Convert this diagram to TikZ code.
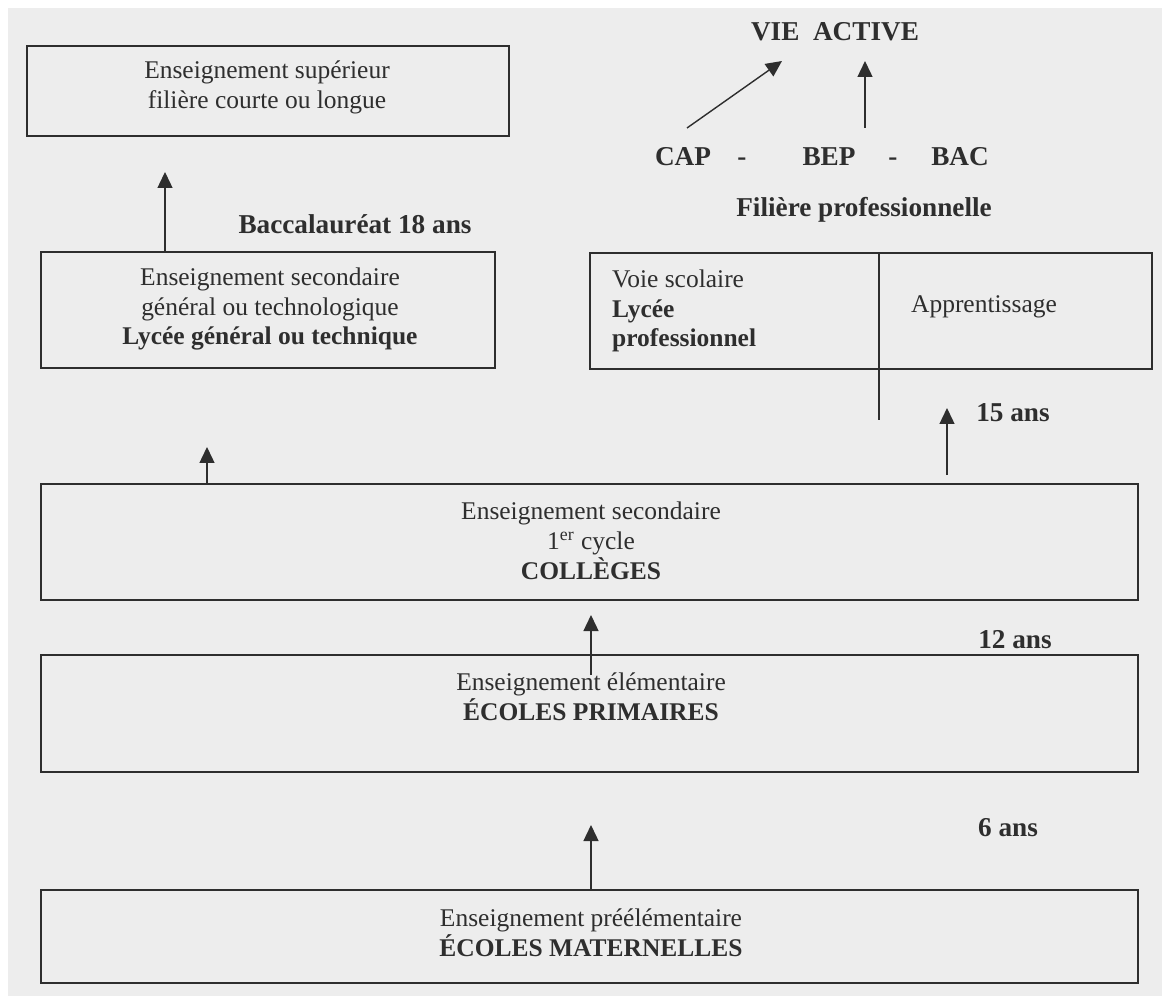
\documentclass[tikz,border=0pt]{standalone}
\usepackage{fontspec}
\setmainfont{Liberation Serif}
\usepackage{xcolor}
\usepackage{tikz}
\usetikzlibrary{arrows.meta}
\definecolor{paper}{HTML}{EDEDED}
\definecolor{ink}{HTML}{2E2E2E}
\tikzset{
  box/.style={draw=ink, line width=1.1pt, rectangle, inner sep=0pt},
  arr/.style={-{Triangle[width=0.3cm, length=0.32cm]}, draw=ink, line width=0.8pt},
  rule/.style={draw=ink, line width=0.8pt},
  txt/.style={text=ink, align=center, font=\fontsize{14.5}{17}\selectfont},
  big/.style={text=ink, font=\fontsize{15.5}{18}\selectfont\bfseries}
}

\begin{document}
\begin{tikzpicture}[x=0.02cm, y=-0.02cm]
  \useasboundingbox (0,0) rectangle (1162,996);
  % paper
  \fill[white] (0,0) rectangle (1162,996);
  \fill[paper] (8,8) rectangle (1172,1006);

  % boxes
  \node[box, minimum width=9.64cm, minimum height=1.8cm] (sup) at (268,91) {};
  \node[box, minimum width=9.08cm, minimum height=2.32cm] (lyc) at (268,310) {};
  \node[box, minimum width=11.24cm, minimum height=2.32cm] (pro) at (871,311) {};
  \node[box, minimum width=21.94cm, minimum height=2.32cm] (col) at (589.5,542) {};
  \node[box, minimum width=21.94cm, minimum height=2.34cm] (pri) at (589.5,713.5) {};
  \node[box, minimum width=21.94cm, minimum height=1.86cm] (mat) at (589.5,936.5) {};

  % texts in the boxes
  \node[txt] (supTxt) at (267,87) {Enseignement supérieur\\filière courte ou longue};
  \node[txt] (lycTxt) at (270,309) {Enseignement secondaire\\général ou technologique\\\textbf{Lycée général ou technique}};
  \node[txt, anchor=west, align=left] (voie) at (606,311) {Voie scolaire\\\textbf{Lycée}\\\textbf{professionnel}};
  \node[txt] (app) at (984,307) {Apprentissage};
  \node[txt] (colTxt) at (591,541) {Enseignement secondaire\\1\textsuperscript{er} cycle\\\textbf{COLLÈGES}};
  \node[txt] (priTxt) at (591,697) {Enseignement élémentaire\\\textbf{ÉCOLES PRIMAIRES}};
  \node[txt] (matTxt) at (591,933) {Enseignement préélémentaire\\\textbf{ÉCOLES MATERNELLES}};

  % labels
  \node[big] (vie) at (835,32) {VIE\ \ ACTIVE};
  \node[big, anchor=base] (cap) at (683,166) {CAP};
  \node[big, anchor=base] (d1) at (742,166) {-};
  \node[big, anchor=base] (bep) at (829,166) {BEP};
  \node[big, anchor=base] (d2) at (893,166) {-};
  \node[big, anchor=base] (bac) at (960,166) {BAC};
  \node[big] (fil) at (864,210) {Filière professionnelle};
  \node[big] (bacc) at (355,224) {Baccalauréat 18 ans};
  \node[big] (a15) at (1013,413) {15 ans};
  \node[big] (a12) at (1015,640) {12 ans};
  \node[big] (a6) at (1008,828) {6 ans};

  % arrows
  \coordinate (capFoot) at (687,128);
  \coordinate (capTip) at (782,61);
  \coordinate (bepFoot) at (865,128);
  \coordinate (bepTip) at (865,61);
  \coordinate (supTip) at (165,172);
  \coordinate (lycTip) at (207,447);
  \coordinate (proFoot) at (947,475);
  \coordinate (proTip) at (947,408);
  \coordinate (colFoot) at (591,675);
  \coordinate (colTip) at (591,615);
  \coordinate (priTip) at (591,825);
  \coordinate (split) at (879,420);

  \draw[arr] (capFoot) -- (capTip);
  \draw[arr] (bepFoot) -- (bepTip);
  \draw[arr] (lyc.north -| supTip) -- (supTip);
  \draw[arr] (col.north -| lycTip) -- (lycTip);
  \draw[arr] (proFoot) -- (proTip);
  \draw[arr] (colFoot) -- (colTip);
  \draw[arr] (mat.north -| priTip) -- (priTip);
  \draw[rule] (pro.north -| split) -- (split);
\end{tikzpicture}
\end{document}
